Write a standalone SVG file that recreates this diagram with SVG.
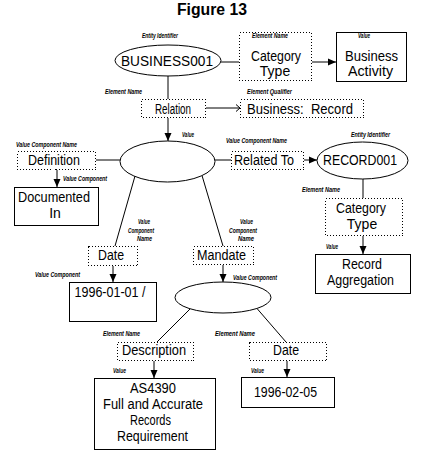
<svg xmlns="http://www.w3.org/2000/svg" width="442" height="456" viewBox="0 0 442 456">
<style>
.t{font-family:"Liberation Sans",Arial,sans-serif;font-size:14px;fill:#000;text-anchor:middle}
.s{font-family:"Liberation Sans",Arial,sans-serif;font-size:6.5px;font-style:italic;font-weight:bold;fill:#000}
.ttl{font-family:"Liberation Sans",Arial,sans-serif;font-size:16px;font-weight:bold;text-anchor:middle}
.box{fill:#fff;stroke:#000;stroke-width:1}
.dot{fill:#fff;stroke:#000;stroke-width:1;stroke-dasharray:1 2;shape-rendering:crispEdges}
.ell{fill:#fff;stroke:#000;stroke-width:1}
.ln{fill:none;stroke:#000;stroke-width:1}
.ar{fill:none;stroke:#000;stroke-width:1;marker-end:url(#fa)}
.ao{fill:none;stroke:#000;stroke-width:1;marker-end:url(#oa)}
</style>
<defs>
<marker id="fa" markerUnits="userSpaceOnUse" markerWidth="8" markerHeight="8" refX="8" refY="4" orient="auto" viewBox="0 0 8 8"><path d="M0,0.5 L8,4 L0,7.5 z" fill="#000"/></marker>
<marker id="oa" markerUnits="userSpaceOnUse" markerWidth="8" markerHeight="8" refX="7" refY="4" orient="auto" viewBox="0 0 8 8"><path d="M3,0.5 L7,4 L3,7.5" fill="none" stroke="#000" stroke-width="1"/></marker>
</defs>
<rect width="442" height="456" fill="#fff"/>
<text class="ttl" x="212" y="15" textLength="70" lengthAdjust="spacingAndGlyphs">Figure 13</text>

<g id="connectors">
<line class="ln" x1="221" y1="62" x2="239" y2="62"/>
<line class="ar" x1="311" y1="62" x2="336" y2="62"/>
<line class="ln" x1="168" y1="76" x2="168" y2="99"/>
<line class="ao" x1="205" y1="108" x2="240" y2="108"/>
<line class="ar" x1="168" y1="118" x2="168" y2="141"/>
<line class="ln" x1="95" y1="160" x2="120" y2="160"/>
<line class="ar" x1="57" y1="169" x2="57" y2="187"/>
<line class="ln" x1="135" y1="176" x2="115" y2="246"/>
<line class="ln" x1="202" y1="175.5" x2="223" y2="246"/>
<line class="ln" x1="215" y1="160" x2="231" y2="160"/>
<line class="ar" x1="303" y1="160" x2="317" y2="160"/>
<line class="ln" x1="363" y1="179" x2="363" y2="198"/>
<line class="ar" x1="363" y1="235" x2="363" y2="254"/>
<line class="ar" x1="113" y1="265" x2="113" y2="282"/>
<line class="ar" x1="223" y1="264" x2="223" y2="282"/>
<line class="ln" x1="190" y1="309" x2="157" y2="342"/>
<line class="ln" x1="257" y1="308.5" x2="286" y2="342"/>
<line class="ar" x1="154" y1="360" x2="154" y2="378"/>
<line class="ar" x1="287" y1="360" x2="287" y2="377"/>
</g>

<g id="business001">
<ellipse class="ell" cx="168" cy="60.5" rx="53" ry="15.5"/>
<text class="t" x="167" y="66" textLength="92" lengthAdjust="spacingAndGlyphs">BUSINESS001</text>
<text class="s" x="142" y="38" textLength="36" lengthAdjust="spacingAndGlyphs">Entity Identifier</text>
</g>

<g id="category-type-1">
<rect class="dot" x="239.5" y="32.5" width="72" height="48"/>
<text class="t" x="276" y="61" textLength="50" lengthAdjust="spacingAndGlyphs">Category</text>
<text class="t" x="275" y="76">Type</text>
<text class="s" x="252" y="38" textLength="36" lengthAdjust="spacingAndGlyphs">Element Name</text>
</g>

<g id="business-activity">
<rect class="box" x="336.5" y="32.5" width="70" height="49"/>
<text class="t" x="371.5" y="61" textLength="53" lengthAdjust="spacingAndGlyphs">Business</text>
<text class="t" x="370.5" y="76" textLength="45" lengthAdjust="spacingAndGlyphs">Activity</text>
<text class="s" x="358" y="38" textLength="12" lengthAdjust="spacingAndGlyphs">Value</text>
</g>

<g id="relation">
<rect class="dot" x="141.5" y="99.5" width="64" height="18"/>
<text class="t" x="173" y="114" textLength="36" lengthAdjust="spacingAndGlyphs">Relation</text>
<text class="s" x="105" y="94" textLength="37" lengthAdjust="spacingAndGlyphs">Element Name</text>
</g>

<g id="business-record">
<rect class="dot" x="240.5" y="99.5" width="123" height="18"/>
<text class="t" x="300" y="114" textLength="106" lengthAdjust="spacingAndGlyphs" style="white-space:pre">Business:  Record</text>
<text class="s" x="247" y="94" textLength="45" lengthAdjust="spacingAndGlyphs">Element Qualifier</text>
</g>

<g id="value-node">
<ellipse class="ell" cx="167.5" cy="161.5" rx="47.5" ry="20.5"/>
<text class="s" x="182" y="137" textLength="12" lengthAdjust="spacingAndGlyphs">Value</text>
</g>

<g id="definition">
<rect class="dot" x="17.5" y="151.5" width="78" height="18"/>
<text class="t" x="54" y="165" textLength="52" lengthAdjust="spacingAndGlyphs">Definition</text>
<text class="s" x="16" y="147" textLength="61" lengthAdjust="spacingAndGlyphs">Value Component Name</text>
</g>

<g id="documented-in">
<rect class="box" x="14.5" y="187.5" width="84" height="38"/>
<text class="t" x="54" y="202" textLength="72" lengthAdjust="spacingAndGlyphs">Documented</text>
<text class="t" x="55" y="218">In</text>
<text class="s" x="63" y="181" textLength="44" lengthAdjust="spacingAndGlyphs">Value Component</text>
</g>

<g id="related-to">
<rect class="dot" x="231.5" y="151.5" width="72" height="18"/>
<text class="t" x="264" y="165" textLength="60" lengthAdjust="spacingAndGlyphs">Related To</text>
<text class="s" x="226" y="143" textLength="61" lengthAdjust="spacingAndGlyphs">Value Component Name</text>
</g>

<g id="record001">
<ellipse class="ell" cx="362.5" cy="160.5" rx="45.5" ry="18.5"/>
<text class="t" x="360" y="165" textLength="74" lengthAdjust="spacingAndGlyphs">RECORD001</text>
<text class="s" x="351" y="137" textLength="39" lengthAdjust="spacingAndGlyphs">Entity Identifier</text>
</g>

<g id="category-type-2">
<rect class="dot" x="325.5" y="198.5" width="77" height="37"/>
<text class="t" x="361" y="213" textLength="50" lengthAdjust="spacingAndGlyphs">Category</text>
<text class="t" x="362" y="229">Type</text>
<text class="s" x="302" y="192" textLength="38" lengthAdjust="spacingAndGlyphs">Element Name</text>
</g>

<g id="record-aggregation">
<rect class="box" x="315.5" y="254.5" width="95" height="39"/>
<text class="t" x="362" y="269" textLength="40" lengthAdjust="spacingAndGlyphs">Record</text>
<text class="t" x="360.5" y="285" textLength="67" lengthAdjust="spacingAndGlyphs">Aggregation</text>
<text class="s" x="326" y="249" textLength="12" lengthAdjust="spacingAndGlyphs">Value</text>
</g>

<g id="date-1">
<rect class="dot" x="88.5" y="246.5" width="49" height="19"/>
<text class="t" x="111" y="260" textLength="26" lengthAdjust="spacingAndGlyphs">Date</text>
<text class="s" x="138" y="224" textLength="12" lengthAdjust="spacingAndGlyphs">Value</text>
<text class="s" x="128" y="233" textLength="26" lengthAdjust="spacingAndGlyphs">Component</text>
<text class="s" x="137" y="241" textLength="15" lengthAdjust="spacingAndGlyphs">Name</text>
</g>

<g id="mandate">
<rect class="dot" x="193.5" y="246.5" width="60" height="18"/>
<text class="t" x="221.5" y="260" textLength="49" lengthAdjust="spacingAndGlyphs">Mandate</text>
<text class="s" x="240" y="224" textLength="13" lengthAdjust="spacingAndGlyphs">Value</text>
<text class="s" x="229" y="233" textLength="28" lengthAdjust="spacingAndGlyphs">Component</text>
<text class="s" x="238" y="241" textLength="16" lengthAdjust="spacingAndGlyphs">Name</text>
</g>

<g id="date-value-1">
<rect class="box" x="69.5" y="282.5" width="87" height="39"/>
<text class="t" x="110" y="297" textLength="71" lengthAdjust="spacingAndGlyphs">1996-01-01 /</text>
<text class="s" x="35" y="277" textLength="45" lengthAdjust="spacingAndGlyphs">Value Component</text>
</g>

<g id="mandate-node">
<ellipse class="ell" cx="223" cy="297.5" rx="48" ry="15.5"/>
<text class="s" x="233" y="280" textLength="44" lengthAdjust="spacingAndGlyphs">Value Component</text>
</g>

<g id="description">
<rect class="dot" x="117.5" y="342.5" width="76" height="18"/>
<text class="t" x="154" y="355" textLength="64" lengthAdjust="spacingAndGlyphs">Description</text>
<text class="s" x="103" y="336" textLength="37" lengthAdjust="spacingAndGlyphs">Element Name</text>
</g>

<g id="date-2">
<rect class="dot" x="249.5" y="342.5" width="77" height="18"/>
<text class="t" x="286" y="355" textLength="26" lengthAdjust="spacingAndGlyphs">Date</text>
<text class="s" x="215" y="336" textLength="40" lengthAdjust="spacingAndGlyphs">Element Name</text>
</g>

<g id="as4390">
<rect class="box" x="94.5" y="378.5" width="121" height="71"/>
<text class="t" x="153" y="393" textLength="46" lengthAdjust="spacingAndGlyphs">AS4390</text>
<text class="t" x="153" y="409" textLength="100" lengthAdjust="spacingAndGlyphs">Full and Accurate</text>
<text class="t" x="150.5" y="425" textLength="41" lengthAdjust="spacingAndGlyphs">Records</text>
<text class="t" x="152.5" y="441" textLength="71" lengthAdjust="spacingAndGlyphs">Requirement</text>
<text class="s" x="113" y="373" textLength="13" lengthAdjust="spacingAndGlyphs">Value</text>
</g>

<g id="date-value-2">
<rect class="box" x="241.5" y="377.5" width="93" height="30"/>
<text class="t" x="285.5" y="397" textLength="63" lengthAdjust="spacingAndGlyphs">1996-02-05</text>
<text class="s" x="251" y="373" textLength="13" lengthAdjust="spacingAndGlyphs">Value</text>
</g>
</svg>
